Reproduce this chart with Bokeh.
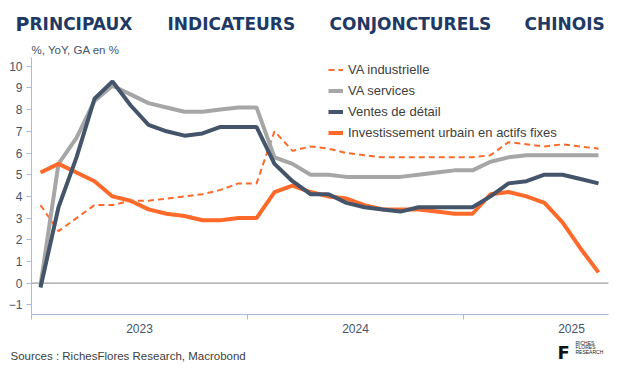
import numpy as np
import pandas as pd
from bokeh.plotting import figure
from bokeh.models import (Range1d, FixedTicker, Legend, LegendItem, Label,
                          ColumnDataSource, LinearAxis)
from bokeh.embed import file_html
from bokeh.resources import INLINE

# ---------------- data (cumulative YoY, %) ----------------
months = [str(p) for p in pd.period_range("2023-01", "2025-08", freq="M")]
years = ["2023", "2024", "2025"]

va_industrielle = [3.6, 2.4, 3.0, 3.6, 3.6, 3.8, 3.8, 3.9, 4.0, 4.1, 4.3, 4.6,
                   4.6, 7.0, 6.1, 6.3, 6.2, 6.0, 5.9, 5.8, 5.8, 5.8, 5.8, 5.8,
                   5.8, 5.9, 6.5, 6.4, 6.3, 6.4, 6.3, 6.2]
va_services = [-0.1, 5.5, 6.7, 8.4, 9.1, 8.7, 8.3, 8.1, 7.9, 7.9, 8.0, 8.1,
               8.1, 5.8, 5.5, 5.0, 5.0, 4.9, 4.9, 4.9, 4.9, 5.0, 5.1, 5.2,
               5.2, 5.6, 5.8, 5.9, 5.9, 5.9, 5.9, 5.9]
ventes_detail = [-0.2, 3.5, 5.8, 8.5, 9.3, 8.2, 7.3, 7.0, 6.8, 6.9, 7.2, 7.2,
                 7.2, 5.5, 4.7, 4.1, 4.1, 3.7, 3.5, 3.4, 3.3, 3.5, 3.5, 3.5,
                 3.5, 4.0, 4.6, 4.7, 5.0, 5.0, 4.8, 4.6]
invest_urbain = [5.1, 5.5, 5.1, 4.7, 4.0, 3.8, 3.4, 3.2, 3.1, 2.9, 2.9, 3.0,
                 3.0, 4.2, 4.5, 4.2, 4.0, 3.9, 3.6, 3.4, 3.4, 3.4, 3.3, 3.2,
                 3.2, 4.1, 4.2, 4.0, 3.7, 2.8, 1.6, 0.5]
y_ticks = list(range(-1, 11))

# x position: month index (mid-month), year boundaries every 12 months
x = np.arange(len(months)) + 0.5
year_starts = [12 * i for i in range(len(years))]
year_mids = [12 * i + 6 for i in range(len(years))]

src = ColumnDataSource(dict(x=x, ind=va_industrielle, serv=va_services,
                            vd=ventes_detail, inv=invest_urbain, month=months))

# axis extents (data units) and the whole-canvas view around them
X_AXIS = (0, 32.05)
Y_AXIS = (-1.44, 10.38)

ORANGE = "#FF6A2B"
GREY = "#A6A6A6"
BLUE = "#44546A"
AXIS = "#A9BBD8"
TXT = "#404040"
TICKTXT = "#44546A"
FONT = "Liberation Sans"

p = figure(width=620, height=371, output_backend="svg", toolbar_location=None,
           x_range=Range1d(-1.722, 32.722), y_range=Range1d(-4.069, 13.028),
           x_axis_location=None, y_axis_location=None,
           min_border_left=0, min_border_right=0, min_border_top=0,
           min_border_bottom=0)
p.outline_line_color = None
p.background_fill_color = "white"
p.border_fill_color = "white"
p.xgrid.visible = False
p.ygrid.visible = False

# zero line across the axis extent
p.segment(x0=[X_AXIS[0]], y0=[0], x1=[X_AXIS[1]], y1=[0], line_color="#A0A0A0",
          line_width=1.2)

r_ind = p.line("x", "ind", source=src, line_color=ORANGE, line_width=2,
               line_dash="6 4")
r_serv = p.line("x", "serv", source=src, line_color=GREY, line_width=4)
r_inv = p.line("x", "inv", source=src, line_color=ORANGE, line_width=4)
r_vd = p.line("x", "vd", source=src, line_color=BLUE, line_width=4)

# y axis
ya = LinearAxis(fixed_location=X_AXIS[0], bounds=Y_AXIS,
                ticker=FixedTicker(ticks=y_ticks))
ya.axis_line_color = AXIS
ya.major_tick_line_color = AXIS
ya.major_tick_out = 5
ya.major_tick_in = 0
ya.minor_tick_line_color = None
ya.major_label_standoff = 4
ya.major_label_text_font = FONT
ya.major_label_text_font_size = "12px"
ya.major_label_text_color = TICKTXT
p.add_layout(ya, "left")

# x axis: ticks at year boundaries, labels at year centres
xa = LinearAxis(fixed_location=Y_AXIS[0], bounds=X_AXIS,
                ticker=FixedTicker(ticks=year_mids, minor_ticks=year_starts))
xa.major_label_overrides = {m: y for m, y in zip(year_mids, years)}
xa.axis_line_color = AXIS
xa.major_tick_line_color = None
xa.major_tick_out = 0
xa.major_tick_in = 0
xa.minor_tick_line_color = AXIS
xa.minor_tick_out = 5
xa.minor_tick_in = 0
xa.major_label_standoff = 5
xa.major_label_text_font = FONT
xa.major_label_text_font_size = "12px"
xa.major_label_text_color = TICKTXT
p.add_layout(xa, "below")

legend = Legend(items=[
    LegendItem(label="VA industrielle", renderers=[r_ind]),
    LegendItem(label="VA services", renderers=[r_serv]),
    LegendItem(label="Ventes de détail", renderers=[r_vd]),
    LegendItem(label="Investissement urbain en actifs fixes", renderers=[r_inv]),
], location=(328, 228), margin=0, padding=0, spacing=0,
    label_height=21, glyph_height=21, glyph_width=15, label_standoff=5,
    border_line_color=None, background_fill_alpha=0,
    label_text_font=FONT, label_text_font_size="13px",
    label_text_color=TXT)
p.add_layout(legend)

# Labels: screen units from the bottom-left corner (frame == canvas)
TITLE = "#203864"
tf = "DejaVu Sans"
TY = 347.7
p.add_layout(Label(x=15, y=TY, x_units="screen", y_units="screen", text="P",
                   text_font=tf, text_font_style="bold", text_font_size="19px",
                   text_color=TITLE, text_baseline="alphabetic"))
p.add_layout(Label(x=29, y=TY, x_units="screen", y_units="screen", text="RINCIPAUX",
                   text_font=tf, text_font_style="bold", text_font_size="17px",
                   text_color=TITLE, text_baseline="alphabetic"))
for word, lx in [("INDICATEURS", 167), ("CONJONCTURELS", 329), ("CHINOIS", 524)]:
    p.add_layout(Label(x=lx, y=TY, x_units="screen", y_units="screen", text=word,
                       text_font=tf, text_font_style="bold", text_font_size="17px",
                       text_color=TITLE, text_baseline="alphabetic"))

p.add_layout(Label(x=31, y=321.7, x_units="screen", y_units="screen",
                   text="%, YoY, GA en %", text_font=FONT, text_font_size="11.5px",
                   text_color=TICKTXT, text_baseline="alphabetic"))

p.add_layout(Label(x=10, y=15.5, x_units="screen", y_units="screen",
                   text="Sources : RichesFlores Research, Macrobond", text_font=FONT,
                   text_font_size="11.5px", text_color=TXT, text_baseline="alphabetic"))

# logo
p.add_layout(Label(x=557, y=19, x_units="screen", y_units="screen", text="F",
                   text_font="DejaVu Sans", text_font_style="bold",
                   text_font_size="18px", text_color="#111111",
                   text_baseline="alphabetic"))
for t, yy in [("RICHES", 28.5), ("FLORES", 24.5), ("RESEARCH", 20)]:
    p.add_layout(Label(x=575, y=yy, x_units="screen", y_units="screen", text=t,
                       text_font=FONT, text_font_size="5px", text_color="#222222",
                       text_baseline="alphabetic"))

open("out.html", "w").write(file_html(p, INLINE))
